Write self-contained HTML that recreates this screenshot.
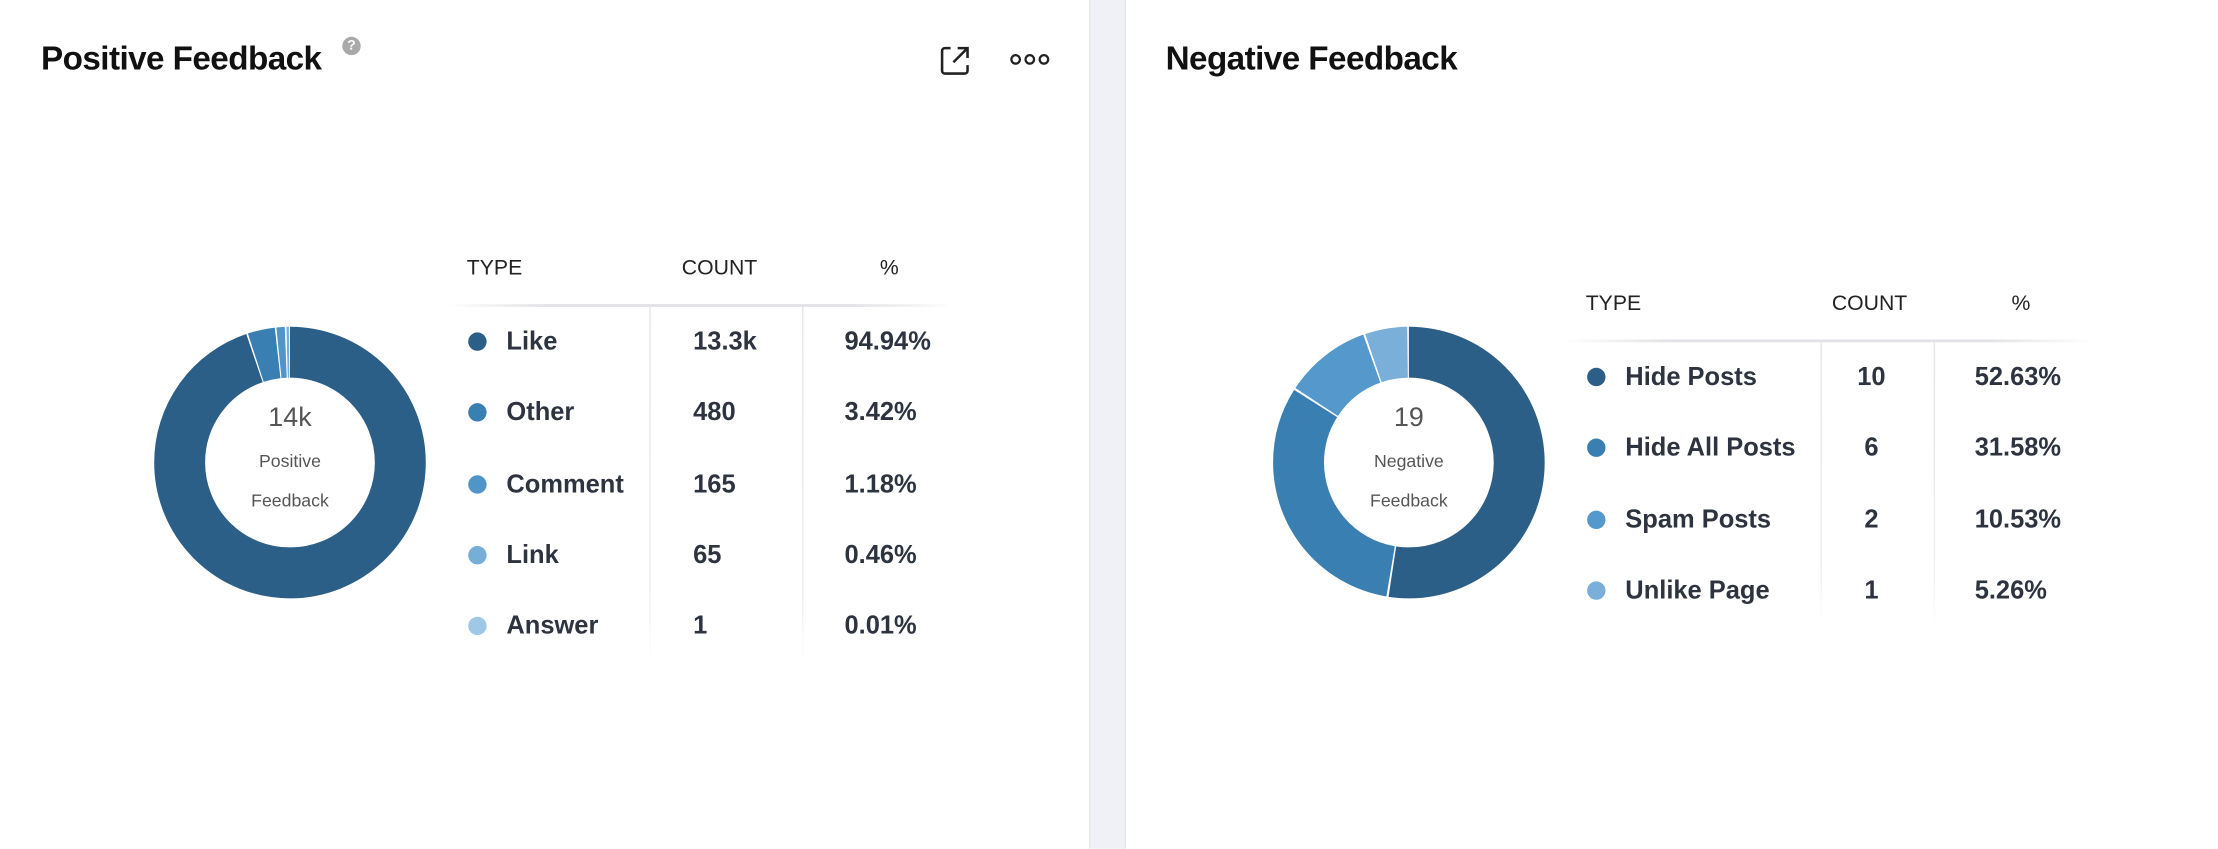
<!DOCTYPE html>
<html><head><meta charset="utf-8"><style>
html,body{margin:0;padding:0;width:2218px;height:848px;overflow:hidden;background:#fff;font-family:"Liberation Sans",sans-serif}
#s{position:absolute;left:0;top:0;width:1568px;height:600px;transform:scale(1.41454);transform-origin:0 0}
.a{position:absolute;white-space:nowrap}
.t{font-weight:bold;font-size:23.5px;color:#111;letter-spacing:-0.4px}
.h{font-size:15px;color:#222}
.r{font-size:18px;font-weight:bold;color:#2d3440}
.d{position:absolute;width:13px;height:13px;border-radius:50%}
.hl{position:absolute;height:2px;background:linear-gradient(90deg,rgba(230,230,232,0),#e2e3e6 20%,#e2e3e6 80%,rgba(230,230,232,0))}
.vl{position:absolute;width:1px;background:linear-gradient(180deg,#e4e5e8,#eceef0 80%,rgba(240,240,240,0))}
.c{font-size:12.5px;color:#555;text-align:center;width:120px}
</style></head><body><div id="s">
<div class="a" style="left:771px;top:0;width:24px;height:600px;background:#f0f1f6"></div>
<div class="a" style="left:770px;top:0;width:1px;height:600px;background:#e3e4ea"></div>
<div class="a" style="left:795px;top:0;width:1px;height:600px;background:#e3e4ea"></div>

<!-- Left card -->
<div class="a t" style="left:29px;top:28px">Positive Feedback</div>
<div class="a" style="left:242px;top:26px;width:13px;height:13px;border-radius:50%;background:#a9a9a9;color:#fff;font-size:10px;font-weight:bold;text-align:center;line-height:13px">?</div>
<svg class="a" style="left:662px;top:30px" width="26" height="26" viewBox="0 0 26 26"><path d="M10 4H6a2 2 0 0 0-2 2v14a2 2 0 0 0 2 2h14a2 2 0 0 0 2-2v-4" fill="none" stroke="#222" stroke-width="1.8"/><path d="M15 4h7v7M22 4L12 14" fill="none" stroke="#222" stroke-width="1.8"/></svg>
<svg class="a" style="left:714px;top:36px" width="30" height="12"><circle cx="4" cy="6" r="3" fill="none" stroke="#222" stroke-width="1.6"/><circle cx="14" cy="6" r="3" fill="none" stroke="#222" stroke-width="1.6"/><circle cx="24" cy="6" r="3" fill="none" stroke="#222" stroke-width="1.6"/></svg>

<svg class="a" style="left:105px;top:227px" width="200" height="200" viewBox="0 0 200 200">
<g transform="rotate(-90 100 100)" fill="none" stroke-width="36">
<circle cx="100" cy="100" r="78" stroke="#2b5f87" stroke-dasharray="464.3 1000" stroke-dashoffset="0"/>
<circle cx="100" cy="100" r="78" stroke="#3a7fb2" stroke-dasharray="15.8 1000" stroke-dashoffset="-465.3"/>
<circle cx="100" cy="100" r="78" stroke="#4f95c8" stroke-dasharray="4.8 1000" stroke-dashoffset="-482.06"/>
<circle cx="100" cy="100" r="78" stroke="#75aed6" stroke-dasharray="1.4 1000" stroke-dashoffset="-487.84"/>
</g></svg>
<div class="a" style="left:145px;top:285px;width:120px;text-align:center;font-size:19px;color:#555">14k</div>
<div class="a c" style="left:145px;top:319px">Positive</div>
<div class="a c" style="left:145px;top:347px">Feedback</div>

<div class="a h" style="left:330px;top:181px">TYPE</div>
<div class="a h" style="left:482px;top:181px">COUNT</div>
<div class="a h" style="left:622px;top:181px">%</div>
<div class="hl" style="left:315px;top:215px;width:360px"></div>
<div class="vl" style="left:459px;top:217px;height:253px"></div>
<div class="vl" style="left:567px;top:217px;height:253px"></div>

<div class="d" style="left:331px;top:235px;background:#2b5f87"></div><div class="a r" style="left:358px;top:231px">Like</div><div class="a r" style="left:490px;top:231px">13.3k</div><div class="a r" style="left:597px;top:231px">94.94%</div>
<div class="d" style="left:331px;top:285px;background:#3a7fb2"></div><div class="a r" style="left:358px;top:281px">Other</div><div class="a r" style="left:490px;top:281px">480</div><div class="a r" style="left:597px;top:281px">3.42%</div>
<div class="d" style="left:331px;top:336px;background:#4f95c8"></div><div class="a r" style="left:358px;top:332px">Comment</div><div class="a r" style="left:490px;top:332px">165</div><div class="a r" style="left:597px;top:332px">1.18%</div>
<div class="d" style="left:331px;top:386px;background:#75aed6"></div><div class="a r" style="left:358px;top:382px">Link</div><div class="a r" style="left:490px;top:382px">65</div><div class="a r" style="left:597px;top:382px">0.46%</div>
<div class="d" style="left:331px;top:436px;background:#9fc7e6"></div><div class="a r" style="left:358px;top:432px">Answer</div><div class="a r" style="left:490px;top:432px">1</div><div class="a r" style="left:597px;top:432px">0.01%</div>

<!-- Right card -->
<div class="a t" style="left:824px;top:28px">Negative Feedback</div>
<svg class="a" style="left:896px;top:227px" width="200" height="200" viewBox="0 0 200 200">
<g transform="rotate(-90 100 100)" fill="none" stroke-width="36">
<circle cx="100" cy="100" r="78" stroke="#2b5f87" stroke-dasharray="256.7 1000" stroke-dashoffset="0"/>
<circle cx="100" cy="100" r="78" stroke="#3a7fb2" stroke-dasharray="153.5 1000" stroke-dashoffset="-257.94"/>
<circle cx="100" cy="100" r="78" stroke="#5598cb" stroke-dasharray="50.4 1000" stroke-dashoffset="-412.71"/>
<circle cx="100" cy="100" r="78" stroke="#79afd8" stroke-dasharray="24.6 1000" stroke-dashoffset="-464.32"/>
</g></svg>
<div class="a" style="left:936px;top:285px;width:120px;text-align:center;font-size:19px;color:#555">19</div>
<div class="a c" style="left:936px;top:319px">Negative</div>
<div class="a c" style="left:936px;top:347px">Feedback</div>

<div class="a h" style="left:1121px;top:206px">TYPE</div>
<div class="a h" style="left:1295px;top:206px">COUNT</div>
<div class="a h" style="left:1422px;top:206px">%</div>
<div class="hl" style="left:1105px;top:240px;width:375px"></div>
<div class="vl" style="left:1287px;top:242px;height:200px"></div>
<div class="vl" style="left:1367px;top:242px;height:200px"></div>

<div class="d" style="left:1122px;top:260px;background:#2b5f87"></div><div class="a r" style="left:1149px;top:256px">Hide Posts</div><div class="a r" style="left:1296px;top:256px;width:54px;text-align:center">10</div><div class="a r" style="left:1396px;top:256px">52.63%</div>
<div class="d" style="left:1122px;top:310px;background:#3a7fb2"></div><div class="a r" style="left:1149px;top:306px">Hide All Posts</div><div class="a r" style="left:1296px;top:306px;width:54px;text-align:center">6</div><div class="a r" style="left:1396px;top:306px">31.58%</div>
<div class="d" style="left:1122px;top:361px;background:#5598cb"></div><div class="a r" style="left:1149px;top:357px">Spam Posts</div><div class="a r" style="left:1296px;top:357px;width:54px;text-align:center">2</div><div class="a r" style="left:1396px;top:357px">10.53%</div>
<div class="d" style="left:1122px;top:411px;background:#79afd8"></div><div class="a r" style="left:1149px;top:407px">Unlike Page</div><div class="a r" style="left:1296px;top:407px;width:54px;text-align:center">1</div><div class="a r" style="left:1396px;top:407px">5.26%</div>
</div></body></html>
